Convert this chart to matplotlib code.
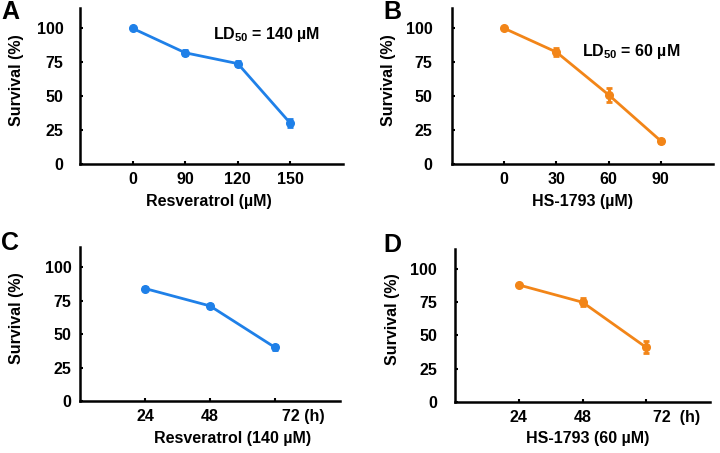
import matplotlib
matplotlib.use("Agg")
import matplotlib.pyplot as plt
from matplotlib.transforms import ScaledTranslation

plt.rcParams["font.family"] = ["Liberation Sans", "DejaVu Sans"]
plt.rcParams["font.weight"] = "bold"
plt.rcParams["mathtext.fontset"] = "custom"
plt.rcParams["mathtext.rm"] = "Liberation Sans:bold"
plt.rcParams["mathtext.bf"] = "Liberation Sans:bold"

BLUE = "#1f80e8"
ORANGE = "#f28518"

# Panel A: resveratrol dose
dose_a = ["0", "90", "120", "150"]
surv_a = [100, 82, 74, 30]
err_a = [0.5, 2, 2, 3]

# Panel B: HS-1793 dose
dose_b = ["0", "30", "60", "90"]
surv_b = [100, 82.5, 51, 17]
err_b = [0.5, 3, 5, 1.5]

# Panel C: resveratrol (140 uM) time course
time_c = ["24", "48", "72 (h)"]
surv_c = [84, 71, 40]
err_c = [1, 1.5, 2]

# Panel D: HS-1793 (60 uM) time course
time_d = ["24", "48", "72  (h)"]
surv_d = [88, 75, 41]
err_d = [1, 3, 4.5]

y_ticks = [0, 25, 50, 75, 100]

W, H = 720, 453
FS = 11.5
fig = plt.figure(figsize=(W / 100, H / 100), dpi=100, facecolor="white")


def px_axes(left, right, top, bottom):
    return fig.add_axes([left / W, 1 - bottom / H, (right - left) / W, (bottom - top) / H])


def draw_panel(ax, labels, surv, err, color, xlabel, xlim, ypad, xlabel_x, shift_last=False):
    xs = list(range(1, len(labels) + 1))
    ax.errorbar(xs, surv, yerr=err, color=color, lw=2, marker="o", ms=5.5,
                capsize=2.5, capthick=2, elinewidth=2.2)
    ax.set_xlim(*xlim)
    ax.set_ylim(0, 115)
    ax.set_yticks(y_ticks)
    ax.set_xticks(xs)
    ax.set_xticklabels(labels)
    for side in ("top", "right"):
        ax.spines[side].set_visible(False)
    for side in ("left", "bottom"):
        ax.spines[side].set_linewidth(1.8)
    ax.tick_params(direction="in", length=2.5, width=1.5, labelsize=FS)
    ax.tick_params(axis="y", pad=ypad)
    ax.tick_params(axis="x", pad=6)
    if shift_last:
        lab = ax.get_xticklabels()[-1]
        lab.set_horizontalalignment("left")
        lab.set_transform(lab.get_transform() + ScaledTranslation(0.07, 0, fig.dpi_scale_trans))

    bbox = ax.get_position()
    w_px, h_px = bbox.width * W, bbox.height * H
    ax.set_ylabel("Survival (%)", fontsize=FS, fontweight="bold")
    ax.yaxis.set_label_coords(-63 / w_px, 0.54)
    ax.yaxis.label.set_va("center")
    ax.set_xlabel(xlabel, fontsize=FS, fontweight="bold")
    ax.xaxis.set_label_coords(xlabel_x, -37 / h_px)
    ax.xaxis.label.set_va("center")


ax_a = px_axes(80, 343, 8, 164)
draw_panel(ax_a, dose_a, surv_a, err_a, BLUE, "Resveratrol (µM)", (0, 5), 12, 0.49)
ax_a.text(0.506, 0.827, r"LD$_{\mathbf{50}}$ = 140 µM", transform=ax_a.transAxes,
          fontsize=11.5, fontweight="bold", ha="left", va="center")

ax_b = px_axes(452, 713, 8, 164)
draw_panel(ax_b, dose_b, surv_b, err_b, ORANGE, "HS-1793 (µM)", (0, 5), 14, 0.50)
ax_b.text(0.498, 0.718, r"LD$_{\mathbf{50}}$ = 60 µM", transform=ax_b.transAxes,
          fontsize=11.5, fontweight="bold", ha="left", va="center")

ax_c = px_axes(80, 340, 247, 401)
draw_panel(ax_c, time_c, surv_c, err_c, BLUE, "Resveratrol (140 µM)", (0, 4), 6, 0.585, shift_last=True)

ax_d = px_axes(455, 710, 249, 402)
draw_panel(ax_d, time_d, surv_d, err_d, ORANGE, "HS-1793 (60 µM)", (0, 4), 13, 0.52, shift_last=True)

for letter, x, y in [("A", 10, 12), ("B", 392, 12), ("C", 10, 243), ("D", 392, 245)]:
    fig.text(x / W, 1 - y / H, letter, fontsize=18, fontweight="bold", ha="center", va="center")

fig.savefig("out.png", dpi=100, facecolor="white")
